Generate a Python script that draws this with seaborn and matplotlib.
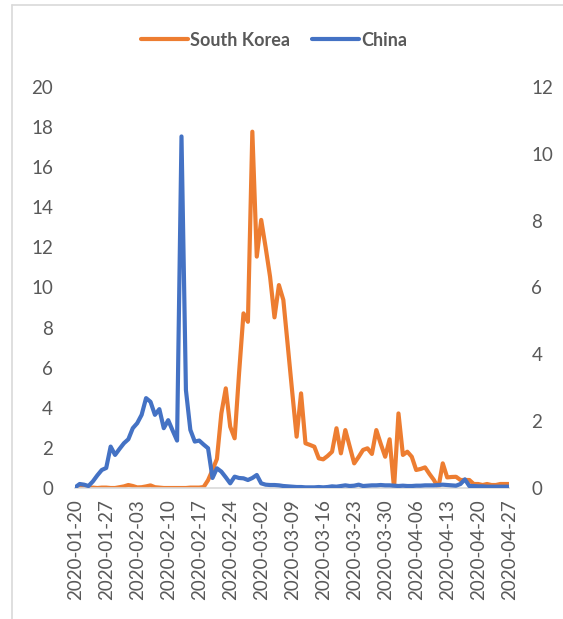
import pandas as pd
import seaborn as sns
import matplotlib.pyplot as plt
import matplotlib.dates as mdates
from matplotlib.lines import Line2D

# daily new cases per million, 2020-01-20 .. 2020-04-27
dates = pd.date_range('2020-01-20', '2020-04-27', freq='D')

south_korea = [
    0.02, 0.0, 0.0, 0.0, 0.02, 0.0, 0.02, 0.02, 0.0, 0.0,
    0.04, 0.08, 0.15, 0.1, 0.03, 0.04, 0.08, 0.13, 0.04, 0.02,
    0.0, 0.0, 0.0, 0.0, 0.0, 0.0, 0.02, 0.02, 0.02, 0.05,
    0.39, 0.9, 1.45, 3.72, 4.97, 3.06, 2.48, 5.72, 8.71, 8.29,
    17.77, 11.54, 13.37, 12.0, 10.54, 8.51, 10.12, 9.38, 7.1, 4.8,
    2.56, 4.72, 2.23, 2.15, 2.06, 1.48, 1.43, 1.6, 1.81, 2.98,
    1.73, 2.89, 2.06, 1.23, 1.55, 1.9, 1.98, 1.7, 2.89, 2.2,
    1.56, 2.43, 0.0, 3.72, 1.65, 1.81, 1.56, 0.9, 0.95, 1.03,
    0.7, 0.4, 0.0, 1.23, 0.53, 0.55, 0.56, 0.4, 0.4, 0.4,
    0.2, 0.2, 0.15, 0.2, 0.15, 0.15, 0.2, 0.2, 0.2,
]

china = [
    0.02, 0.12, 0.1, 0.06, 0.2, 0.38, 0.54, 0.6, 1.24, 0.99,
    1.17, 1.34, 1.46, 1.79, 1.94, 2.19, 2.69, 2.58, 2.19, 2.36,
    1.79, 2.03, 1.72, 1.42, 10.52, 2.93, 1.74, 1.39, 1.42, 1.3,
    1.19, 0.3, 0.59, 0.49, 0.32, 0.14, 0.34, 0.3, 0.29, 0.24,
    0.3, 0.39, 0.14, 0.1, 0.09, 0.09, 0.08, 0.06, 0.05, 0.04,
    0.03, 0.03, 0.02, 0.02, 0.02, 0.03, 0.02, 0.03, 0.05, 0.04,
    0.06, 0.08, 0.06, 0.07, 0.1, 0.06, 0.07, 0.08, 0.08, 0.09,
    0.08, 0.08, 0.07, 0.06, 0.07, 0.06, 0.06, 0.07, 0.07, 0.08,
    0.08, 0.08, 0.09, 0.1, 0.09, 0.08, 0.07, 0.12, 0.26, 0.06,
    0.06, 0.05, 0.05, 0.04, 0.04, 0.04, 0.04, 0.04, 0.04,
]

tick_labels = ['2020-01-20', '2020-01-27', '2020-02-03', '2020-02-10', '2020-02-17',
               '2020-02-24', '2020-03-02', '2020-03-09', '2020-03-16', '2020-03-23',
               '2020-03-30', '2020-04-06', '2020-04-13', '2020-04-20', '2020-04-27']
left_ticks = [0, 2, 4, 6, 8, 10, 12, 14, 16, 18, 20]
right_ticks = [0, 2, 4, 6, 8, 10, 12]

df = pd.DataFrame({'date': dates, 'South Korea': south_korea, 'China': china})

sns.set_theme(style='white')
plt.rcParams['font.family'] = ['Lato', 'DejaVu Sans']
grey = '#595959'
orange = '#ED7D31'
blue = '#4472C4'

fig = plt.figure(figsize=(5.63, 6.19), dpi=100)
ax = fig.add_axes([0.1336, 0.2116, 0.7708, 0.6479])
ax2 = ax.twinx()

line_kw = dict(linewidth=3.0, solid_joinstyle='round', solid_capstyle='round')
sns.lineplot(data=df, x='date', y='South Korea', ax=ax, color=orange, **line_kw)
sns.lineplot(data=df, x='date', y='China', ax=ax2, color=blue, **line_kw)

ax.set_ylim(0, 20)
ax2.set_ylim(0, 12)
ax.set_yticks(left_ticks)
ax2.set_yticks(right_ticks)
ax.set_xlim(dates[0], dates[-1])
ax.set_xticks(pd.to_datetime(tick_labels))
ax.xaxis.set_major_formatter(mdates.DateFormatter('%Y-%m-%d'))

for a in (ax, ax2):
    a.set_xlabel('')
    a.set_ylabel('')
    for s in a.spines.values():
        s.set_visible(False)
    a.grid(False)
    a.tick_params(length=0, labelsize=13.5, labelcolor=grey)
ax.spines['bottom'].set_visible(True)
ax.spines['bottom'].set_color('#D9D9D9')
ax.spines['bottom'].set_linewidth(1.2)
ax.tick_params(axis='y', pad=16)
ax2.tick_params(axis='y', pad=16)
ax.tick_params(axis='x', pad=8)
plt.setp(ax.get_xticklabels(), rotation=90)
ax.set_zorder(ax2.get_zorder() - 1)
ax.patch.set_visible(False)
ax2.patch.set_visible(False)

handles = [Line2D([], [], color=orange, linewidth=3.0, solid_capstyle='round'),
           Line2D([], [], color=blue, linewidth=3.0, solid_capstyle='round')]
leg = fig.legend(handles, ['South Korea', 'China'], loc='center', bbox_to_anchor=(0.487, 0.935),
                 ncol=2, frameon=False, handlelength=2.6, handletextpad=0.15, columnspacing=1.2,
                 prop={'weight': 'bold', 'size': 13})
for t in leg.get_texts():
    t.set_color(grey)

# chart border (top and left edges)
fig.add_artist(Line2D([12 / 563, 1.0], [1 - 5 / 619, 1 - 5 / 619], color='#D9D9D9', linewidth=1.2))
fig.add_artist(Line2D([12 / 563, 12 / 563], [0, 1 - 5 / 619], color='#D9D9D9', linewidth=1.2))

fig.savefig('out.png', dpi=100)
